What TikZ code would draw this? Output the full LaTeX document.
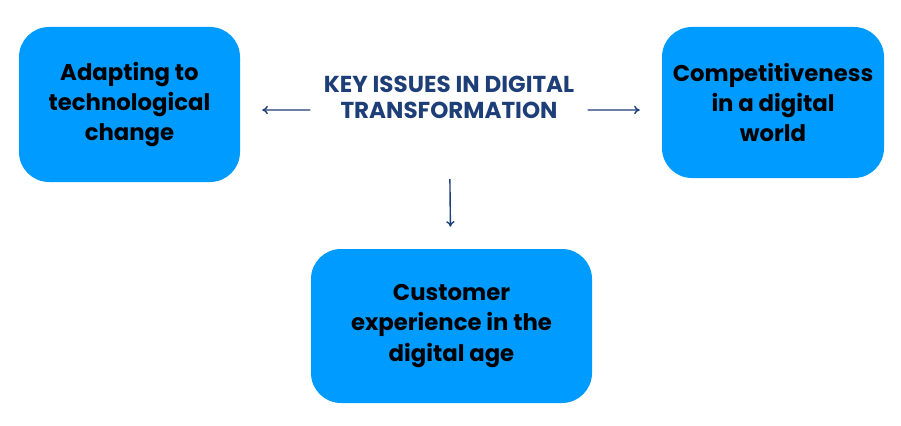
\documentclass[tikz,border=0pt]{standalone}
\usepackage{fontspec}
\setmainfont{Poppins}
\usepackage{tikz,xcolor}
\usetikzlibrary{arrows.meta}

\definecolor{boxblue}{RGB}{0,155,255}
\definecolor{navy}{RGB}{30,62,120}

\begin{document}
\begin{tikzpicture}[
    topic/.style={fill=boxblue, rounded corners=0.75cm, align=center,
        font=\fontsize{16.2}{21.6}\selectfont\bfseries},
    link/.style={-{To[length=4pt,width=6pt]}, navy, line width=1pt}
  ]

    \useasboundingbox (0,0) rectangle (22.525,-10.625);

    % Title in the middle
    \node[navy, align=center, inner xsep=0.33cm, font=\fontsize{16.4}{18.6}\selectfont\bfseries] (title) at (11.225,-2.425)
        {KEY ISSUES IN DIGITAL\\TRANSFORMATION};

    % The three issues
    \node[topic, minimum width=5.525cm, minimum height=3.875cm] (adapt) at (3.2375,-2.6125)
        {Adapting to\\technological\\change};
    \node[topic, minimum width=5.55cm, minimum height=3.775cm] (compete) at (19.325,-2.5625)
        {Competitiveness\\in a digital\\world};
    \node[topic, minimum width=7.025cm, minimum height=3.85cm] (custom) at (11.2875,-8.15)
        {Customer\\experience in the\\digital age};

    % Arrows out of the title
    \draw[link, shorten >=0.55cm] ([yshift=-0.325cm]title.west) -- ([yshift=-0.1375cm]adapt.east);
    \draw[link, shorten >=0.55cm] ([yshift=-0.325cm]title.east) -- ([yshift=-0.1875cm]compete.west);
    \draw[link, shorten <=2.05cm, shorten >=0.55cm] (title.center) -- (custom);

\end{tikzpicture}
\end{document}
